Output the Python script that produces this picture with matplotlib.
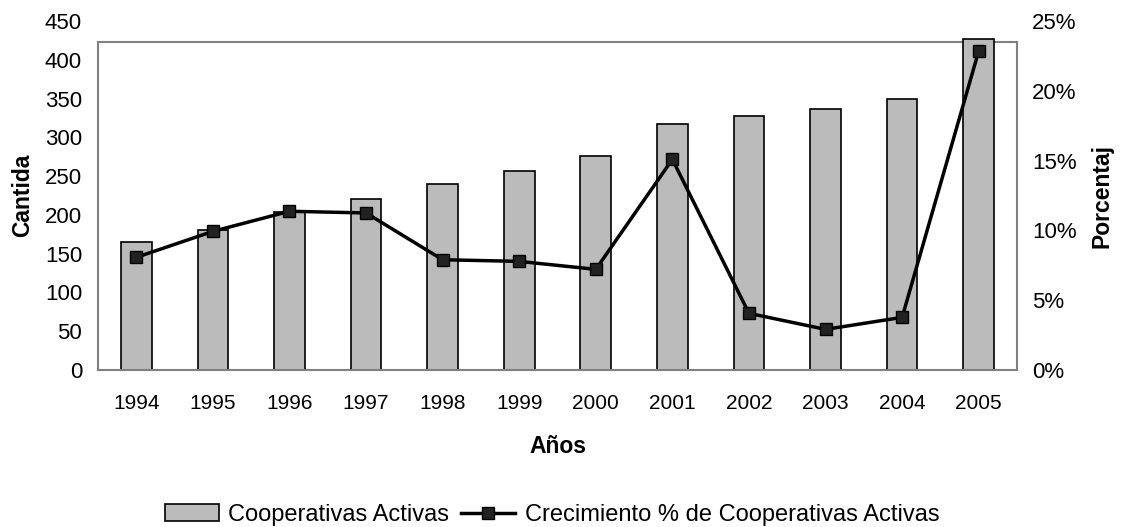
import matplotlib
matplotlib.use("Agg")
import matplotlib.pyplot as plt
from matplotlib.ticker import FuncFormatter

plt.rcParams['font.family'] = ['Liberation Sans', 'DejaVu Sans']

years = ['1994', '1995', '1996', '1997', '1998', '1999', '2000', '2001', '2002', '2003', '2004', '2005']
cooperativas = [165, 180, 204, 221, 240, 257, 276, 317, 327, 337, 350, 427]
crecimiento = [8.07, 9.93, 11.37, 11.25, 7.90, 7.78, 7.21, 15.09, 4.06, 2.91, 3.77, 22.85]
left_ticks = [0, 50, 100, 150, 200, 250, 300, 350, 400, 450]
right_ticks = [0, 5, 10, 15, 20, 25]

frame_top = 423
gray = '#808080'

fig = plt.figure(figsize=(11.25, 5.27), dpi=100)
ax = fig.add_axes([98/1125, 1-370/527, (1017-98)/1125, (370-21)/527])
x = list(range(len(years)))
bars = ax.bar(x, cooperativas, width=0.4, color='#bbbbbb', edgecolor='black',
              linewidth=1.2, label='Cooperativas Activas', zorder=2, clip_on=False)
ax.set_xlim(-0.5, len(years) - 0.5)
ax.set_ylim(0, 450)
ax.set_yticks(left_ticks)
ax.set_xticks(x)
ax.set_xticklabels(years)
ax.tick_params(axis='both', length=0)
ax.tick_params(axis='y', pad=11.5, labelsize=16)
ax.tick_params(axis='x', pad=17, labelsize=15)
ax.spines['top'].set_visible(False)
for s in ['left', 'right', 'bottom']:
    ax.spines[s].set_color(gray)
    ax.spines[s].set_linewidth(1.5)
ax.spines['left'].set_bounds(0, frame_top)
ax.spines['right'].set_bounds(0, frame_top)
ax.axhline(frame_top, color=gray, linewidth=1.5, zorder=1)
ax.set_ylabel('Cantida', fontsize=16.5, fontweight='bold', labelpad=8)
ax.set_xlabel('Años', fontsize=16.5, fontweight='bold', labelpad=16)

ax2 = ax.twinx()
ax2.set_ylim(0, 25)
ax2.set_yticks(right_ticks)
ax2.yaxis.set_major_formatter(FuncFormatter(lambda v, p: f'{int(v)}%'))
ax2.tick_params(axis='y', length=0, labelsize=16, pad=10.8)
for s in ['top', 'left', 'bottom', 'right']:
    ax2.spines[s].set_visible(False)
line, = ax2.plot(x, crecimiento, color='black', linewidth=2.5, marker='s',
                 markersize=8, markerfacecolor='#222222', markeredgecolor='black',
                 label='Crecimiento % de Cooperativas Activas', zorder=3)
ax2.set_ylabel('Porcentaj', fontsize=16.5, fontweight='bold', labelpad=10)

fig.legend([bars, line], ['Cooperativas Activas', 'Crecimiento % de Cooperativas Activas'],
           loc='center', bbox_to_anchor=(552/1125, 1-515/527), ncol=2, frameon=False,
           fontsize=17, handlelength=2.3, handletextpad=0.4, columnspacing=0.5,
           borderpad=0.1)

fig.savefig('out.png', dpi=100)
